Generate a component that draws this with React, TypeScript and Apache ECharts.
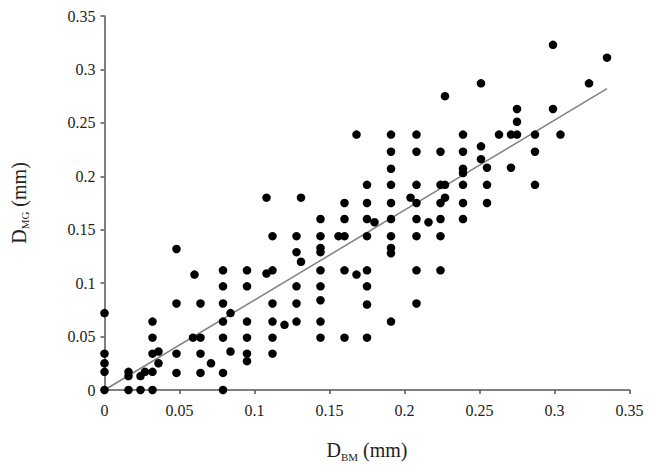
import React, { useEffect, useRef } from "react";
import * as echarts from "echarts";

// Scatter points (D_BM, D_MG) in mm, read column by column
const dBM: number[] = [
  0, 0, 0, 0, 0,
  0.016, 0.016, 0.016,
  0.024, 0.024, 0.027,
  0.032, 0.032, 0.032, 0.032, 0.032,
  0.036, 0.036,
  0.048, 0.048, 0.048, 0.048,
  0.059,
  0.06, 0.064, 0.064, 0.064, 0.064,
  0.071,
  0.079, 0.079, 0.079, 0.079, 0.079, 0.079, 0.079,
  0.084, 0.084,
  0.095, 0.095, 0.095, 0.095, 0.095, 0.095,
  0.108, 0.108,
  0.112, 0.112, 0.112, 0.112, 0.112, 0.112,
  0.12,
  0.128, 0.128, 0.128, 0.128, 0.128,
  0.131, 0.131,
  0.144, 0.144, 0.144, 0.144, 0.144, 0.144, 0.144, 0.144, 0.144,
  0.156,
  0.16, 0.16, 0.16, 0.16, 0.16,
  0.168, 0.168,
  0.175, 0.175, 0.175, 0.175, 0.175, 0.175, 0.175, 0.175,
  0.18,
  0.191, 0.191, 0.191, 0.191, 0.191, 0.191, 0.191, 0.191, 0.191, 0.191,
  0.204,
  0.208, 0.208, 0.208, 0.208, 0.208, 0.208, 0.208, 0.208,
  0.216,
  0.224, 0.224, 0.224, 0.224, 0.224, 0.224,
  0.227, 0.227, 0.227,
  0.239, 0.239, 0.239, 0.239, 0.239, 0.239, 0.239,
  0.251, 0.251, 0.251,
  0.255, 0.255, 0.255,
  0.263,
  0.271, 0.271,
  0.275, 0.275, 0.275,
  0.287, 0.287, 0.287,
  0.299, 0.299,
  0.304,
  0.323,
  0.335,
];

const dMG: number[] = [
  0.072, 0.034, 0.025, 0.017, 0,
  0.017, 0.013, 0,
  0.013, 0, 0.017,
  0.064, 0.049, 0.034, 0.017, 0,
  0.036, 0.025,
  0.132, 0.081, 0.034, 0.016,
  0.049,
  0.108, 0.081, 0.049, 0.034, 0.016,
  0.025,
  0.112, 0.097, 0.081, 0.064, 0.049, 0.016, 0,
  0.072, 0.036,
  0.112, 0.097, 0.064, 0.049, 0.034, 0.027,
  0.18, 0.109,
  0.144, 0.112, 0.081, 0.064, 0.049, 0.034,
  0.061,
  0.144, 0.129, 0.097, 0.081, 0.064,
  0.18, 0.12,
  0.16, 0.144, 0.133, 0.129, 0.112, 0.097, 0.084, 0.064, 0.049,
  0.144,
  0.175, 0.16, 0.144, 0.112, 0.049,
  0.239, 0.108,
  0.192, 0.175, 0.16, 0.144, 0.112, 0.097, 0.08, 0.049,
  0.157,
  0.239, 0.223, 0.207, 0.192, 0.175, 0.16, 0.144, 0.133, 0.128, 0.064,
  0.18,
  0.239, 0.223, 0.192, 0.175, 0.16, 0.144, 0.112, 0.081,
  0.157,
  0.223, 0.192, 0.175, 0.16, 0.144, 0.112,
  0.275, 0.192, 0.18,
  0.239, 0.223, 0.207, 0.203, 0.192, 0.175, 0.16,
  0.287, 0.228, 0.216,
  0.208, 0.192, 0.175,
  0.239,
  0.239, 0.208,
  0.263, 0.251, 0.239,
  0.239, 0.223, 0.192,
  0.323, 0.263,
  0.239,
  0.287,
  0.311,
];

// Fitted trend line end points (D_BM, D_MG)
const fitX: number[] = [0, 0.335];
const fitY: number[] = [0, 0.282];

const axisTicks: number[] = [0, 0.05, 0.1, 0.15, 0.2, 0.25, 0.3, 0.35];

const FONT = '"Liberation Serif", "Times New Roman", "DejaVu Serif", serif';

export default function App() {
  const ref = useRef<HTMLDivElement>(null);

  useEffect(() => {
    if (!ref.current) return;
    const chart = echarts.init(ref.current, undefined, { renderer: "svg" });
    const points = dBM.map((x, i) => [x, dMG[i]]);
    const fit = fitX.map((x, i) => [x, fitY[i]]);
    const tickMin = axisTicks[0];
    const tickMax = axisTicks[axisTicks.length - 1];
    const tickStep = axisTicks[1] - axisTicks[0];

    const axisCommon = {
      type: "value" as const,
      min: tickMin,
      max: tickMax,
      interval: tickStep,
      splitLine: { show: false },
      axisLine: { show: true, onZero: false, lineStyle: { color: "#555", width: 1.5 } },
      axisTick: { show: true, inside: false, length: 4, lineStyle: { color: "#555", width: 1.5 } },
      axisLabel: { color: "#222", fontSize: 16, fontFamily: FONT },
      nameLocation: "middle" as const,
      nameTextStyle: {
        color: "#222",
        fontFamily: FONT,
        rich: {
          a: { fontSize: 20, fontFamily: FONT, color: "#222", lineHeight: 24 },
          b: { fontSize: 11, fontFamily: FONT, color: "#222", verticalAlign: "bottom", lineHeight: 11 },
        },
      },
    };

    chart.setOption({
      animation: false,
      backgroundColor: "#fff",
      grid: {
        left: 104.5,
        right: 26.5,
        top: 16,
        bottom: 86,
        containLabel: false,
        outerBoundsMode: "none",
      },
      xAxis: {
        ...axisCommon,
        name: "{a|D}{b|BM}{a| (mm)}",
        nameGap: 48,
        axisLabel: { ...axisCommon.axisLabel, margin: 12 },
      },
      yAxis: {
        ...axisCommon,
        name: "{a|D}{b|MG}{a| (mm)}",
        nameGap: 74,
        nameRotate: 90,
        axisLabel: { ...axisCommon.axisLabel, margin: 9 },
      },
      series: [
        {
          type: "line",
          data: fit,
          symbol: "none",
          lineStyle: { color: "#808080", width: 1.5 },
          z: 1,
        },
        {
          type: "scatter",
          data: points,
          symbol: "circle",
          symbolSize: 8.5,
          itemStyle: { color: "#000", opacity: 1 },
          z: 2,
        },
      ],
    });

    return () => chart.dispose();
  }, []);

  return (
    <div
      ref={ref}
      style={{ position: "fixed", left: 0, top: 0, width: 656, height: 476, background: "#fff" }}
    />
  );
}
